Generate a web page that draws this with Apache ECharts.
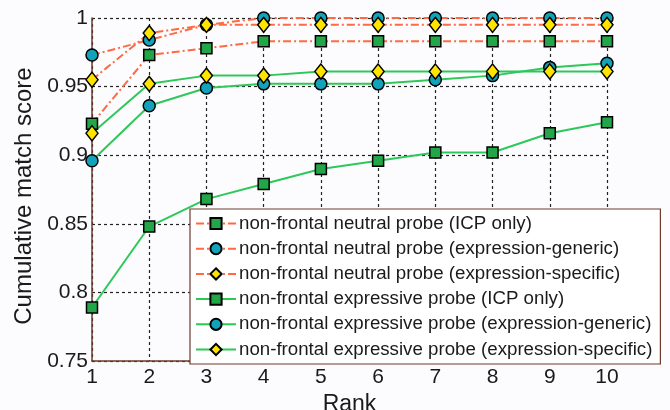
<!DOCTYPE html>
<html>
<head>
<meta charset="utf-8">
<script src="https://cdn.jsdelivr.net/npm/echarts@6/dist/echarts.min.js"></script>
<style>html,body{margin:0;padding:0;background:#fcfcfe;}#c{width:670px;height:410px;}</style>
</head>
<body>
<div id="c"></div>
<script>
var ranks = [1, 2, 3, 4, 5, 6, 7, 8, 9, 10];
var yTicks = [0.75, 0.8, 0.85, 0.9, 0.95, 1];
var seriesNames = [
  'non-frontal neutral probe (ICP only)',
  'non-frontal neutral probe (expression-generic)',
  'non-frontal neutral probe (expression-specific)',
  'non-frontal expressive probe (ICP only)',
  'non-frontal expressive probe (expression-generic)',
  'non-frontal expressive probe (expression-specific)'
];
var neutralICP      = [0.923, 0.973, 0.978, 0.983, 0.983, 0.983, 0.983, 0.983, 0.983, 0.983];
var neutralGeneric  = [0.973, 0.984, 0.995, 1.0, 1.0, 1.0, 1.0, 1.0, 1.0, 1.0];
var neutralSpecific = [0.955, 0.989, 0.995, 0.995, 0.995, 0.995, 0.995, 0.995, 0.995, 0.995];
var exprICP         = [0.789, 0.848, 0.868, 0.879, 0.890, 0.896, 0.902, 0.902, 0.916, 0.924];
var exprGeneric     = [0.896, 0.936, 0.949, 0.952, 0.952, 0.952, 0.955, 0.958, 0.964, 0.967];
var exprSpecific    = [0.916, 0.952, 0.958, 0.958, 0.961, 0.961, 0.961, 0.961, 0.961, 0.961];

var ORANGE = '#ff6a42', GREEN_LINE = '#2ec85a';
var SQ = '#22a648', CI = '#12a2ba', DI = '#ffe400';

function pairs(arr){ return ranks.map(function(r,i){ return [r, arr[i]]; }); }
function mk(name, data, lineColor, dashed, symbol, size, fill){
  return {
    name: name, type: 'line', data: pairs(data),
    symbol: symbol, symbolSize: size,
    lineStyle: {color: lineColor, width: 2, type: dashed ? [8,3,2,3] : 'solid'},
    itemStyle: {color: fill, borderColor: '#000', borderWidth: 1.5},
    emphasis: {disabled: true}, animation: false
  };
}
var chart = echarts.init(document.getElementById('c'));
chart.setOption({
  backgroundColor: '#fcfcfe',
  animation: false,
  textStyle: {fontFamily: 'Liberation Sans, Arial, sans-serif'},
  grid: {left: 92, right: 63, top: 18, bottom: 49, containLabel: false, outerBoundsMode: 'none'},
  xAxis: {
    type: 'value', min: 1, max: 10, interval: 1,
    name: 'Rank', nameLocation: 'middle', nameGap: 29,
    nameTextStyle: {fontSize: 23, color: '#1a1a1a'},
    axisLine: {show: true, lineStyle: {color: '#6e3a2c', width: 1.5}},
    axisTick: {show: false},
    axisLabel: {fontSize: 21, color: '#1a1a1a', margin: 6},
    splitLine: {show: true, lineStyle: {color: '#222', type: [3,3], width: 1.2}}
  },
  yAxis: {
    type: 'value', min: yTicks[0], max: yTicks[yTicks.length-1], interval: 0.05,
    name: 'Cumulative match score', nameLocation: 'middle', nameGap: 56,
    nameTextStyle: {fontSize: 24, color: '#1a1a1a', padding: [0, 13, 0, 0]},
    axisLine: {show: true, lineStyle: {color: '#6e3a2c', width: 1.5}},
    axisTick: {show: false},
    axisLabel: {fontSize: 21, color: '#1a1a1a', margin: 4},
    splitLine: {show: true, lineStyle: {color: '#222', type: [3,3], width: 1.2}}
  },
  legend: {
    orient: 'vertical', left: 190, top: 209,
    itemWidth: 40, itemHeight: 14, itemGap: 6.2,
    padding: [5, 8, 5, 5],
    backgroundColor: '#ffffff', borderColor: '#6e3a2c', borderWidth: 1.2,
    textStyle: {fontSize: 18.7, lineHeight: 18, color: '#1a1a1a', padding: [0,0,0,-2]},
    data: seriesNames
  },
  series: [
    mk(seriesNames[0], neutralICP, ORANGE, true, 'rect', 11, SQ),
    mk(seriesNames[1], neutralGeneric, ORANGE, true, 'circle', 12, CI),
    mk(seriesNames[2], neutralSpecific, ORANGE, true, 'diamond', [12,15], DI),
    mk(seriesNames[3], exprICP, GREEN_LINE, false, 'rect', 11, SQ),
    mk(seriesNames[4], exprGeneric, GREEN_LINE, false, 'circle', 12, CI),
    mk(seriesNames[5], exprSpecific, GREEN_LINE, false, 'diamond', [12,15], DI)
  ]
});
</script>
</body>
</html>
